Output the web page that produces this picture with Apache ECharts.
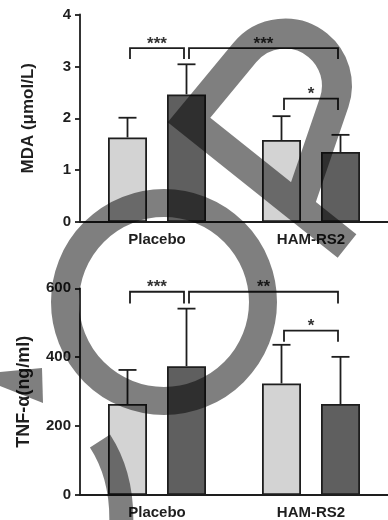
<!DOCTYPE html>
<html><head><meta charset="utf-8">
<script src="https://cdn.jsdelivr.net/npm/echarts/dist/echarts.min.js"></script>
<style>html,body{margin:0;padding:0;background:#fff}#c{width:388px;height:520px}</style>
</head><body><div id="c"></div>
<script>
// ---- data ----
const categories = ['Placebo', 'HAM-RS2'];
const mdaLight = [1.63, 1.58];
const mdaDark = [2.46, 1.35];
const mdaLightSD = [0.38, 0.46];
const mdaDarkSD = [0.58, 0.33];
const tnfLight = [264, 324];
const tnfDark = [374, 264];
const tnfLightSD = [99, 112];
const tnfDarkSD = [167, 137];
const mdaAxis = [0, 4, 1];     // min, max, interval
const tnfAxis = [0, 600, 200];
// brackets: [fromCategory, fromBar, toCategory, toBar, topValue, legEndValue]
const mdaBrackets = [[0, 0, 0, 1, 3.35, 3.14], [0, 1, 1, 1, 3.35, 3.14], [1, 0, 1, 1, 2.38, 2.16]];
const mdaBracketLabels = ['***', '***', '*'];
const tnfBrackets = [[0, 0, 0, 1, 590, 556], [0, 1, 1, 1, 590, 556], [1, 0, 1, 1, 477, 445]];
const tnfBracketLabels = ['***', '**', '*'];

const FONT = 'Liberation Sans, Arial, sans-serif';
const INK = '#1e1e1e';
const LIGHT = '#d3d3d3';
const DARK = '#5f5f5f';
const BAR_W = 39, BAR_GAP = 20;
const HALF = (BAR_W + BAR_GAP) / 2;

function errRender(side) {
  return function (params, api) {
    const ci = api.value(0), m = api.value(1), e = api.value(2);
    const p0 = api.coord([ci, m]), p1 = api.coord([ci, m + e]);
    const x = p0[0] + side * HALF;
    return {
      type: 'group', children: [
        { type: 'line', shape: { x1: x, y1: p0[1], x2: x, y2: p1[1] }, style: { stroke: INK, lineWidth: 1.8 } },
        { type: 'line', shape: { x1: x - 9, y1: p1[1], x2: x + 9, y2: p1[1] }, style: { stroke: INK, lineWidth: 1.8 } }
      ]
    };
  };
}
function bracketRender(labels) {
  return function (params, api) {
    const fc = api.value(0), fs = api.value(1), tc = api.value(2), ts = api.value(3), y = api.value(4), leg = api.value(5);
    const a = api.coord([fc, y]), b = api.coord([tc, y]), l = api.coord([fc, leg]);
    const x1 = a[0] + (fs ? 1 : -1) * HALF + 2.5;
    const x2 = b[0] + (ts ? 1 : -1) * HALF - 2.5;
    return {
      type: 'group', children: [
        { type: 'polyline', shape: { points: [[x1, l[1]], [x1, a[1]], [x2, a[1]], [x2, l[1]]] }, style: { stroke: INK, lineWidth: 1.8, fill: null } },
        { type: 'text', style: { text: labels[params.dataIndex], x: (x1 + x2) / 2, y: a[1] - 4, align: 'center', verticalAlign: 'middle', font: 'bold 17px ' + FONT, fill: '#333' } }
      ]
    };
  };
}
function xAx(i) {
  return {
    gridIndex: i, type: 'category', data: categories,
    axisLine: { lineStyle: { color: INK, width: 1.8 } },
    axisTick: { alignWithLabel: true, length: 5, lineStyle: { color: INK, width: 1.8 } },
    axisLabel: { fontSize: 15, fontWeight: 'bold', color: INK, margin: 10, fontFamily: FONT }
  };
}
function yAx(i, ax, name, size, gap) {
  return {
    gridIndex: i, type: 'value', min: ax[0], max: ax[1], interval: ax[2],
    name: name, nameLocation: 'middle', nameGap: gap,
    nameTextStyle: { fontSize: size, fontWeight: 'bold', color: INK, fontFamily: FONT },
    axisLine: { show: true, lineStyle: { color: INK, width: 1.8 } },
    axisTick: { show: true, length: 5, lineStyle: { color: INK, width: 1.8 } },
    axisLabel: { fontSize: 15, fontWeight: 'bold', color: INK, margin: 9, fontFamily: FONT },
    splitLine: { show: false }
  };
}
function bars(i, vals, color) {
  return {
    type: 'bar', xAxisIndex: i, yAxisIndex: i, data: vals, barWidth: BAR_W, barGap: (BAR_GAP / BAR_W * 100) + '%',
    itemStyle: { color: color, borderColor: INK, borderWidth: 1.8 }, z: 2
  };
}
function errs(i, vals, sds, side) {
  return {
    type: 'custom', xAxisIndex: i, yAxisIndex: i, renderItem: errRender(side), clip: false, z: 1,
    data: vals.map((v, k) => [k, v, sds[k]])
  };
}
function brk(i, data, labels) {
  return { type: 'custom', xAxisIndex: i, yAxisIndex: i, renderItem: bracketRender(labels), clip: false, z: 3, data: data };
}
// semi-transparent occluding brush shape drawn over the figure (decoration, not data)
const SHADE = 'rgba(0,0,0,0.5)';
function overlayRender() {
  return {
    type: 'group', children: [
      { type: 'circle', shape: { cx: 164, cy: 302, r: 99 }, style: { fill: null, stroke: SHADE, lineWidth: 28 } },
      { type: 'path', shape: { pathData: 'M347,246 L189,120 L244.6,52.8 A52,52 0 0 1 334.2,102.3 L298,208' },
        style: { fill: null, stroke: SHADE, lineWidth: 30, lineJoin: 'miter', miterLimit: 10, lineCap: 'butt' } },
      { type: 'polygon', shape: { points: [[0, 372], [42, 368], [43, 403], [0, 386]] }, style: { fill: SHADE } },
      { type: 'path', shape: { pathData: 'M100,441 Q124,478 121,530' }, style: { fill: null, stroke: SHADE, lineWidth: 24, lineCap: 'butt' } }
    ]
  };
}
const option = {
  animation: false,
  backgroundColor: '#fff',
  grid: [
    { left: 80, top: 14.5, width: 312, height: 207.5 },
    { left: 80, top: 288.3, width: 312, height: 206.7 }
  ],
  xAxis: [xAx(0), xAx(1)],
  yAxis: [yAx(0, mdaAxis, 'MDA (μmol/L)', 17, 43), yAx(1, tnfAxis, 'TNF-α(ng/ml)', 18, 47)],
  series: [
    bars(0, mdaLight, LIGHT), bars(0, mdaDark, DARK),
    errs(0, mdaLight, mdaLightSD, -1), errs(0, mdaDark, mdaDarkSD, 1),
    brk(0, mdaBrackets, mdaBracketLabels),
    bars(1, tnfLight, LIGHT), bars(1, tnfDark, DARK),
    errs(1, tnfLight, tnfLightSD, -1), errs(1, tnfDark, tnfDarkSD, 1),
    brk(1, tnfBrackets, tnfBracketLabels),
    { type: 'custom', xAxisIndex: 0, yAxisIndex: 0, clip: false, z: 100, silent: true, renderItem: overlayRender, data: [[0, 0]] }
  ]
};
const chart = echarts.init(document.getElementById('c'), null, { renderer: 'canvas' });
chart.setOption(option);
</script>
</body></html>
